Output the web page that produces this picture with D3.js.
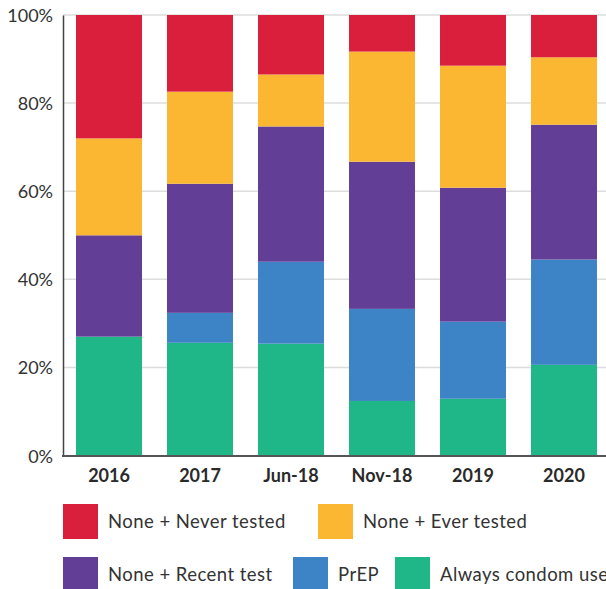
<!DOCTYPE html>
<html><head><meta charset="utf-8">
<script src="https://cdn.jsdelivr.net/npm/d3@7"></script>
<style>
html,body{margin:0;padding:0;background:#fff;overflow:hidden;}
svg{display:block;}
</style></head>
<body>
<svg id="chart" width="606" height="589"></svg>
<script>
const categories = ["2016","2017","Jun-18","Nov-18","2019","2020"];
const seriesNames = ["Always condom use","PrEP","None + Recent test","None + Ever tested","None + Never tested"];
const alwaysCondom = [27.0, 25.6, 25.4, 12.4, 12.9, 20.6];
const prep         = [0.0, 6.8, 18.6, 20.9, 17.5, 23.9];
const recentTest   = [23.0, 29.3, 30.7, 33.4, 30.4, 30.6];
const everTested   = [22.0, 20.9, 11.8, 25.0, 27.7, 15.3];
const neverTested  = [28.0, 17.4, 13.5, 8.3, 11.5, 9.6];
const yTicks = [0, 20, 40, 60, 80, 100];
const colors = ["#1fb787","#3d84c6","#633e97","#fbb731","#da1f3c"];

const seriesValues = [alwaysCondom, prep, recentTest, everTested, neverTested];
const rows = categories.map((c, i) => {
  const r = {cat: c};
  seriesNames.forEach((s, j) => r[s] = seriesValues[j][i]);
  return r;
});

const svg = d3.select("#chart");
const x = d3.scaleBand().domain(categories).range([63, 610]).paddingInner(0.275).paddingOuter(0.143);
const y = d3.scaleLinear().domain([0, 100]).range([455.6, 15]);
const color = d3.scaleOrdinal().domain(seriesNames).range(colors);

// gridlines
svg.append("g").selectAll("line").data(yTicks.filter(d => d > 0)).join("line")
  .attr("x1", 63).attr("x2", 606)
  .attr("y1", d => y(d)).attr("y2", d => y(d))
  .attr("stroke", "#dcdcdc").attr("stroke-width", 1.5);

const stack = d3.stack().keys(seriesNames)(rows);
svg.append("g").selectAll("g").data(stack).join("g")
  .attr("fill", d => color(d.key))
  .selectAll("rect").data(d => d).join("rect")
  .attr("x", d => x(d.data.cat))
  .attr("width", x.bandwidth())
  .attr("y", d => y(d[1]))
  .attr("height", d => Math.max(0, y(d[0]) - y(d[1])));

// y axis
const yAxis = d3.axisLeft(y).tickValues(yTicks).tickFormat(d => d + "%").tickSize(0).tickPadding(10);
const gy = svg.append("g").attr("transform", "translate(63,0)").call(yAxis);
gy.select(".domain").attr("stroke", "#444").attr("stroke-width", 1.5);
gy.selectAll("text").attr("font-family", "Lato, sans-serif").attr("font-size", 18).attr("fill", "#333")
  .attr("dy", "0.36em");

// x axis
const xAxis = d3.axisBottom(x).tickSize(0).tickPadding(12);
const gx = svg.append("g").attr("transform", "translate(0,456)").call(xAxis);
gx.select(".domain").attr("d", "M62,0H606").attr("stroke", "#555").attr("stroke-width", 2);
gx.selectAll("text").attr("font-family", "Lato, sans-serif").attr("font-weight", 700)
  .attr("font-size", 18).attr("fill", "#2a2a2a").attr("dy", "0.75em");

// legend
const legendItems = [
  {name: "None + Never tested", x: 63, y: 504},
  {name: "None + Ever tested", x: 318, y: 504},
  {name: "None + Recent test", x: 63, y: 557},
  {name: "PrEP", x: 293, y: 557},
  {name: "Always condom use", x: 395, y: 557}
];
const lg = svg.append("g").selectAll("g").data(legendItems).join("g")
  .attr("transform", d => `translate(${d.x},${d.y})`);
lg.append("rect").attr("width", 35).attr("height", 35).attr("fill", d => color(d.name));
lg.append("text").attr("x", 45).attr("y", 23.5)
  .attr("font-family", "Lato, sans-serif").attr("font-size", 18.5).attr("letter-spacing", 0.45)
  .attr("fill", "#333")
  .text(d => d.name);
</script>
</body></html>
